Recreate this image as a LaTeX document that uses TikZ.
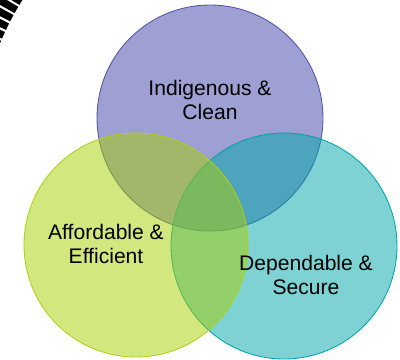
\documentclass[tikz,border=0pt]{standalone}
\usepackage{xcolor}
\usepackage{fontspec}
\setmainfont{Liberation Sans}
\usepackage{tikz}
\usetikzlibrary{positioning}
\definecolor{clean}{RGB}{158,160,211}
\definecolor{cleanline}{RGB}{82,84,168}
\definecolor{secure}{RGB}{0,166,168}
\definecolor{secureline}{RGB}{0,163,166}
\definecolor{afford}{RGB}{167,207,0}
\definecolor{affordline}{RGB}{176,208,20}
\tikzset{
	ring/.style={circle, minimum size=5.65cm, inner sep=0pt, line width=0.6pt},
	label/.style={align=center, font=\fontsize{15}{17}\selectfont}
}

\begin{document}
\begin{tikzpicture}
	\clip (0,0) rectangle (10,8.975);
	\draw[line width=0.75cm, dash pattern=on 0.19cm off 0.06cm] (6.5,5.225) ++(130:7.4) arc (130:159:7.4);
	\node[ring, draw=cleanline, fill=clean] (clean) at (5.25,6.025) {};
	\node[ring, draw=secureline, fill=secure, fill opacity=0.5] (secure) at (7.1,2.825) {};
	\node[ring, draw=affordline, fill=afford, fill opacity=0.5, minimum size=5.6cm] (afford) at (3.4,2.85) {};
	\node[label] (t1) at (5.25,6.475) {Indigenous \&\\Clean};
	\node[label] (t2) at (2.65,2.875) {Affordable \&\\Efficient};
	\node[label] (t3) at (7.65,2.1) {Dependable \&\\Secure};
\end{tikzpicture}
\end{document}
